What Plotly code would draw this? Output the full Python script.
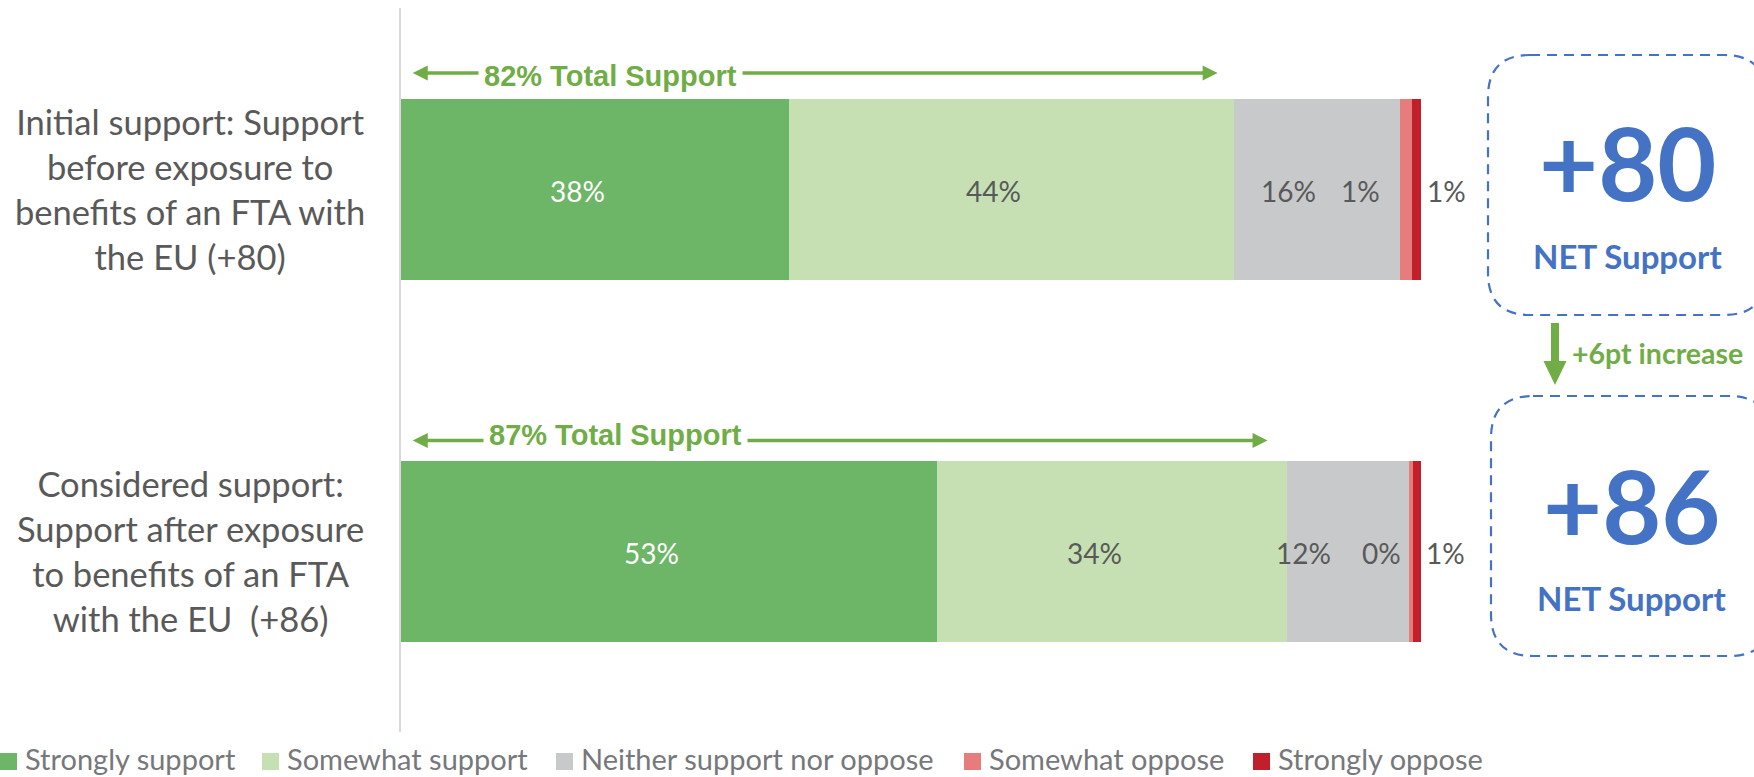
import plotly.graph_objects as go

# ---------------------------------------------------------------------------
# Data
# ---------------------------------------------------------------------------
# Row 0 is drawn at the bottom, row 1 at the top.
row_labels = [
    "Considered support:<br>Support after exposure<br>to benefits of an FTA<br>with the EU\u00a0 (+86)",
    "Initial support: Support<br>before exposure to<br>benefits of an FTA with<br>the EU (+80)",
]
series_names = [
    "Strongly support",
    "Somewhat support",
    "Neither support nor oppose",
    "Somewhat oppose",
    "Strongly oppose",
]
strongly_support = [52.6, 38.1]
somewhat_support = [34.3, 43.6]
neither = [12.0, 16.3]
somewhat_oppose = [0.4, 1.2]
strongly_oppose = [0.7, 0.8]

series_values = [strongly_support, somewhat_support, neither, somewhat_oppose, strongly_oppose]

# ---------------------------------------------------------------------------
# Styling
# ---------------------------------------------------------------------------
colors = ["#6DB567", "#C6E0B4", "#C8C9CB", "#E67C7C", "#C1202A"]
label_colors = ["#FFFFFF", "#595959", "#595959", "#595959", "#595959"]
GREEN = "#70AD47"
BLUE = "#4472C4"
FONT = "Lato, 'Open Sans', sans-serif"
ARIAL = "'Liberation Sans', Arial, sans-serif"

W, H = 1754, 777
X0 = 401              # left edge of the bars (px)
PX_PER_PCT = 10.195   # horizontal scale (px per percentage point)
PLOT_TOP, PLOT_BOTTOM = 8, 732

# horizontal nudges (px) for the value labels of each row / segment
label_shift = [
    [-18, -18, -45, -30, 29],
    [-18, -18, -29, -46, 30],
]


def px(x):
    return x / W


def py(y):
    return 1 - y / H


def pt(x, y):
    return f"{px(x):.5f},{py(y):.5f}"


def rounded_rect(x0, y0, x1, y1, r):
    return (
        f"M{pt(x0 + r, y0)} L{pt(x1 - r, y0)} Q{pt(x1, y0)} {pt(x1, y0 + r)} "
        f"L{pt(x1, y1 - r)} Q{pt(x1, y1)} {pt(x1 - r, y1)} "
        f"L{pt(x0 + r, y1)} Q{pt(x0, y1)} {pt(x0, y1 - r)} "
        f"L{pt(x0, y0 + r)} Q{pt(x0, y0)} {pt(x0 + r, y0)} Z"
    )


def polygon(points):
    return "M" + " L".join(pt(x, y) for x, y in points) + " Z"


fig = go.Figure()

rows = list(range(len(row_labels)))
for name, vals, col in zip(series_names, series_values, colors):
    fig.add_trace(
        go.Bar(
            y=rows,
            x=vals,
            name=name,
            orientation="h",
            width=0.5,
            marker=dict(color=col, line=dict(width=0)),
            showlegend=False,
            hoverinfo="skip",
        )
    )

annotations = []
shapes = []

# value labels on the bars
for i in rows:
    cum = 0.0
    for k, vals in enumerate(series_values):
        v = vals[i]
        annotations.append(
            dict(
                x=cum + v / 2, y=i, xref="x", yref="y",
                text=f"{v:.0f}%", showarrow=False,
                xshift=label_shift[i][k], yshift=-2,
                font=dict(family=FONT, size=28, color=label_colors[k]),
            )
        )
        cum += v

# category labels on the left
for i, lab in zip(rows, row_labels):
    annotations.append(
        dict(
            x=px(190), y=i, xref="paper", yref="y",
            text=lab, showarrow=False, align="center",
            xanchor="center", yanchor="middle",
            font=dict(family=FONT, size=34.5, color="#595959"),
        )
    )

# "Total Support" span arrows above each bar
span_y = [440.5, 73]           # arrow line height (px)
span_text_y = [435.5, 75.5]    # text centre (px)
span_text_x = [488, 483]       # text left edge (px)
span_end_pct = [85.0, 80.1]    # right arrow tip (axis units)
span_start_pct = 1.15
HEAD_L, HEAD_W = 15, 7.5
for i in rows:
    total = strongly_support[i] + somewhat_support[i]
    xl = X0 + span_start_pct * PX_PER_PCT
    xr = X0 + span_end_pct[i] * PX_PER_PCT
    yy = span_y[i]
    shapes.append(
        dict(type="line", xref="paper", yref="paper",
             x0=px(xl + HEAD_L - 1), x1=px(xr - HEAD_L + 1), y0=py(yy), y1=py(yy),
             line=dict(color=GREEN, width=3.5))
    )
    shapes.append(
        dict(type="path", xref="paper", yref="paper",
             path=polygon([(xl, yy), (xl + HEAD_L, yy - HEAD_W), (xl + HEAD_L, yy + HEAD_W)]),
             fillcolor=GREEN, line=dict(width=0))
    )
    shapes.append(
        dict(type="path", xref="paper", yref="paper",
             path=polygon([(xr, yy), (xr - HEAD_L, yy - HEAD_W), (xr - HEAD_L, yy + HEAD_W)]),
             fillcolor=GREEN, line=dict(width=0))
    )
    annotations.append(
        dict(
            x=px(span_text_x[i] - 5), y=py(span_text_y[i]), xref="paper", yref="paper",
            text=f"<b>{total:.0f}% Total Support</b>", showarrow=False,
            xanchor="left", yanchor="middle", bgcolor="#FFFFFF", borderpad=5,
            font=dict(family=ARIAL, size=29, color=GREEN),
        )
    )

# NET support call-outs
net = [
    round(strongly_support[i] + somewhat_support[i] - somewhat_oppose[i] - strongly_oppose[i])
    for i in rows
]
boxes = [(1491, 396, 1771, 656), (1488, 55, 1766, 315)]
box_cx = [1631, 1627]
big_y = [504, 161]
sub_y = [598, 256]
for i in rows:
    x0, y0, x1, y1 = boxes[i]
    shapes.append(
        dict(type="path", xref="paper", yref="paper", path=rounded_rect(x0, y0, x1, y1, 42),
             line=dict(color=BLUE, width=2.2, dash="10px,7px"), fillcolor="rgba(0,0,0,0)")
    )
    annotations.append(
        dict(x=px(box_cx[i]), y=py(big_y[i]), xref="paper", yref="paper",
             text=f"<b>{net[i]:+d}</b>", showarrow=False, xanchor="center", yanchor="middle",
             font=dict(family=FONT, size=102, color=BLUE))
    )
    annotations.append(
        dict(x=px(box_cx[i]), y=py(sub_y[i]), xref="paper", yref="paper",
             text="<b>NET Support</b>", showarrow=False, xanchor="center", yanchor="middle",
             font=dict(family=FONT, size=33, color=BLUE))
    )

# increase arrow between the call-outs
shapes.append(
    dict(type="path", xref="paper", yref="paper",
         path=polygon([(1551, 323), (1559, 323), (1559, 361), (1566.5, 361),
                       (1555, 385), (1543.5, 361), (1551, 361)]),
         fillcolor=GREEN, line=dict(width=0))
)
annotations.append(
    dict(x=px(1570), y=py(353), xref="paper", yref="paper",
         text=f"<b>+{net[0] - net[1]}pt increase</b>", showarrow=False,
         xanchor="left", yanchor="middle",
         font=dict(family=FONT, size=28.5, color=GREEN))
)

# legend along the bottom
legend_x = [0, 262, 556, 964, 1253]
for name, col, lx in zip(series_names, colors, legend_x):
    shapes.append(
        dict(type="rect", xref="paper", yref="paper",
             x0=px(lx), x1=px(lx + 17), y0=py(770), y1=py(753),
             fillcolor=col, line=dict(width=0))
    )
    annotations.append(
        dict(x=px(lx + 24), y=py(758), xref="paper", yref="paper",
             text=name, showarrow=False, xanchor="left", yanchor="middle",
             borderpad=0,
             font=dict(family=FONT, size=29, color="#77787B"))
    )

fig.update_layout(
    width=W,
    height=H,
    margin=dict(l=0, r=0, t=0, b=0, pad=0),
    paper_bgcolor="#FFFFFF",
    plot_bgcolor="#FFFFFF",
    barmode="stack",
    showlegend=False,
    xaxis=dict(
        domain=[X0 / W, 1],
        range=[0, (W - X0) / PX_PER_PCT],
        visible=False,
        fixedrange=True,
    ),
    yaxis=dict(
        domain=[1 - PLOT_BOTTOM / H, 1 - PLOT_TOP / H],
        range=[-0.5, 1.5],
        showline=True,
        linecolor="#D9D9D9",
        linewidth=1.5,
        showgrid=False,
        zeroline=False,
        showticklabels=False,
        ticks="",
        fixedrange=True,
    ),
    shapes=shapes,
    annotations=annotations,
)

fig.write_html("out.html")
